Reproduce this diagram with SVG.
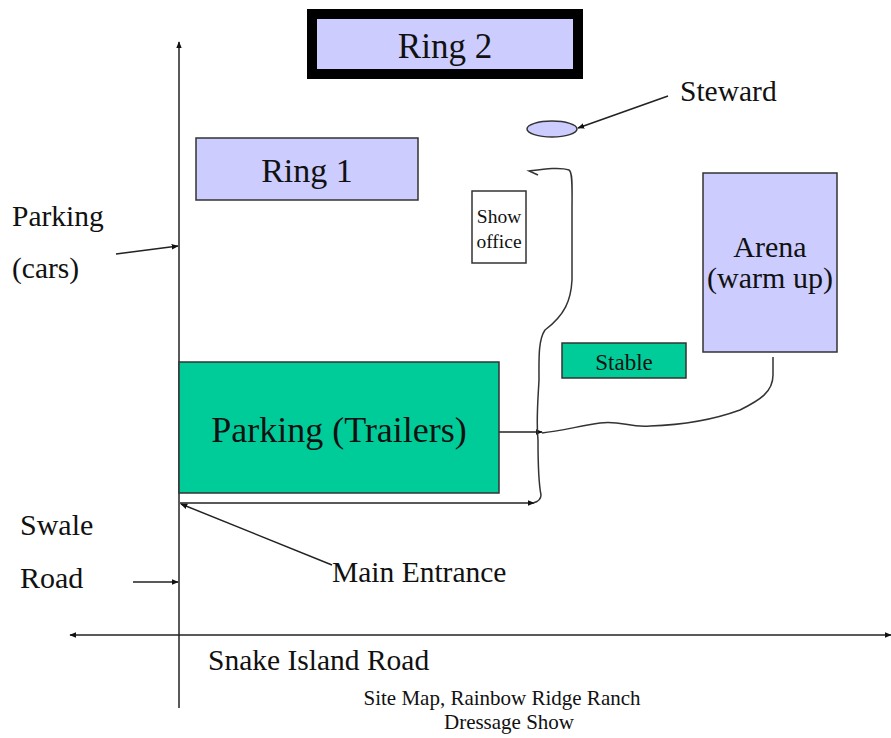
<svg xmlns="http://www.w3.org/2000/svg" width="891" height="738" viewBox="0 0 891 738">
<defs>
<marker id="ah" viewBox="0 0 10 10" refX="9" refY="5" markerWidth="7" markerHeight="7" orient="auto-start-reverse" markerUnits="userSpaceOnUse">
<path d="M0,1 L10,5 L0,9 Z" fill="#111"/>
</marker>
<style>
.lav{fill:#CCCCFF;stroke:#333;stroke-width:1.5}
.grn{fill:#00CC99;stroke:#333;stroke-width:1.5}
.ln{fill:none;stroke:#222;stroke-width:1.5}
.wv{fill:none;stroke:#333;stroke-width:1.5}
</style>
</defs>
<rect width="891" height="738" fill="#fff"/>
<g id="connectors">
<line class="ln" x1="179" y1="708" x2="179" y2="42" marker-end="url(#ah)"/>
<line class="ln" x1="70" y1="635" x2="891" y2="635" marker-start="url(#ah)" marker-end="url(#ah)"/>
<line class="ln" x1="668" y1="96" x2="578" y2="128" marker-end="url(#ah)"/>
<line class="ln" x1="116" y1="254" x2="178" y2="246" marker-end="url(#ah)"/>
<line class="ln" x1="133" y1="582" x2="178" y2="582" marker-end="url(#ah)"/>
<line class="ln" x1="332" y1="565" x2="181" y2="504" marker-end="url(#ah)"/>
<line class="ln" x1="180" y1="503" x2="534" y2="503" marker-end="url(#ah)"/>
<line class="ln" x1="499" y1="432" x2="542" y2="432" marker-end="url(#ah)"/>
<path class="wv" d="M538,175 L529,171 C545,169 560,167 569,170 C573,172 572,190 572,210 L572,280 C571,300 565,315 545,330 C538,340 539,360 539,380 C538,400 536,420 538,440 C538,460 538,480 541,495 C541,500 537,502 533,503"/>
<path class="wv" d="M542,433 C560,431 580,426 600,423 C620,420 630,428 650,426 C680,425 710,421 740,410 C760,400 773,392 773,375 L773,357"/>
</g>
<g font-family="'Liberation Serif', 'DejaVu Serif', serif" fill="#111">
<g id="ring2">
<rect x="312" y="14" width="266" height="60" fill="#CCCCFF" stroke="#000" stroke-width="10"/>
<text x="445" y="58" font-size="35" text-anchor="middle">Ring 2</text>
</g>
<g id="ring1">
<rect class="lav" x="196" y="138" width="222" height="62"/>
<text x="307" y="182" font-size="34" text-anchor="middle">Ring 1</text>
</g>
<g id="steward">
<ellipse class="lav" cx="552" cy="129" rx="25" ry="8"/>
<text x="680" y="101" font-size="29.5">Steward</text>
</g>
<g id="show-office">
<rect x="472" y="191" width="54" height="72" fill="#fff" stroke="#333" stroke-width="1.5"/>
<text x="499" y="223" font-size="19.5" text-anchor="middle">Show</text>
<text x="499" y="248" font-size="19.5" text-anchor="middle">office</text>
</g>
<g id="arena">
<rect class="lav" x="703" y="173" width="134" height="179"/>
<text x="770" y="257" font-size="30" text-anchor="middle">Arena</text>
<text x="770" y="288" font-size="30" text-anchor="middle">(warm up)</text>
</g>
<g id="stable">
<rect class="grn" x="562" y="343" width="124" height="35"/>
<text x="624" y="370" font-size="23" text-anchor="middle">Stable</text>
</g>
<g id="parking-trailers">
<rect class="grn" x="179" y="362" width="320" height="131"/>
<text x="339" y="442" font-size="36" text-anchor="middle">Parking (Trailers)</text>
</g>
<g id="parking-cars">
<text x="12" y="226" font-size="29.5">Parking</text>
<text x="12" y="278" font-size="29.5">(cars)</text>
</g>
<g id="swale-road">
<text x="20" y="535" font-size="30">Swale</text>
<text x="20" y="588" font-size="30">Road</text>
</g>
<g id="main-entrance">
<text x="332" y="582" font-size="29.5">Main Entrance</text>
</g>
<g id="snake-island-road">
<text x="208" y="670" font-size="29.5">Snake Island Road</text>
</g>
<g id="caption">
<text x="502" y="705" font-size="21" text-anchor="middle">Site Map, Rainbow Ridge Ranch</text>
<text x="509" y="729" font-size="21" text-anchor="middle">Dressage Show</text>
</g>
</g>
</svg>
